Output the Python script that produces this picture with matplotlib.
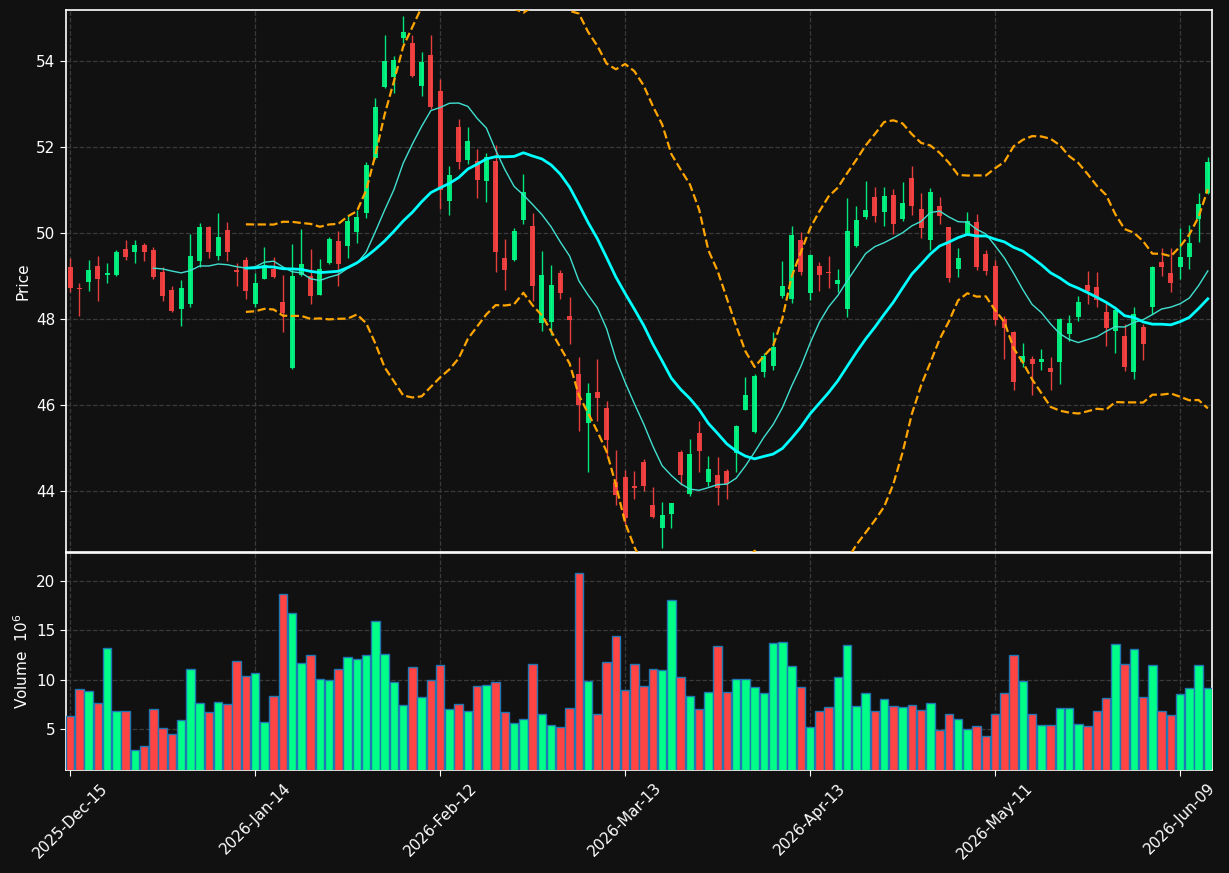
import numpy as np
import pandas as pd
import matplotlib
matplotlib.use("Agg")
import matplotlib.pyplot as plt

# daily OHLC + volume (millions), 124 trading days from 2025-12-15
opens = [49.22, 48.73, 48.87, 49.24, 49.03, 49.03, 49.64, 49.56, 49.73, 49.61,
         49.10, 48.68, 48.24, 48.36, 49.36, 50.15, 49.47, 50.08, 49.15, 49.38,
         48.34, 48.94, 49.17, 48.40, 46.86, 49.02, 49.01, 48.57, 49.30, 49.82,
         49.69, 50.03, 50.46, 51.74, 53.39, 53.62, 54.55, 54.43, 53.43, 54.15,
         53.31, 50.74, 52.46, 51.69, 51.67, 51.20, 51.67, 49.43, 49.37, 50.30,
         50.17, 47.90, 47.93, 49.08, 48.08, 46.71, 45.57, 46.31, 45.94, 44.20,
         44.33, 44.11, 44.68, 43.68, 43.15, 43.46, 44.90, 43.92, 45.34, 44.20,
         44.36, 44.47, 44.88, 45.89, 45.38, 46.77, 46.90, 48.54, 48.46, 49.85,
         48.60, 49.24, 49.08, 48.81, 48.23, 49.69, 50.38, 50.83, 50.50, 50.89,
         50.32, 51.29, 50.57, 49.83, 50.64, 50.13, 49.16, 49.97, 50.25, 49.51,
         49.24, 48.01, 47.70, 47.00, 47.07, 47.01, 46.87, 47.01, 47.65, 48.04,
         48.80, 48.75, 48.17, 47.73, 47.61, 46.77, 47.82, 48.29, 49.32, 49.07,
         49.20, 49.44, 50.32, 50.93]
highs = [49.41, 48.83, 49.38, 49.47, 49.31, 49.61, 49.85, 49.85, 49.78, 49.68,
         49.20, 48.77, 48.91, 49.98, 50.24, 50.17, 50.47, 50.25, 49.31, 49.45,
         49.07, 49.68, 49.45, 49.02, 49.75, 50.10, 49.64, 49.40, 49.92, 50.05,
         50.43, 50.53, 51.65, 53.14, 54.61, 54.12, 55.05, 54.60, 54.21, 54.61,
         53.58, 51.57, 52.66, 52.47, 51.96, 51.86, 52.06, 49.86, 50.11, 51.38,
         50.47, 49.58, 49.26, 49.14, 48.52, 47.12, 46.52, 47.08, 46.09, 44.96,
         44.48, 44.47, 44.75, 44.09, 43.74, 43.73, 44.95, 45.22, 45.63, 44.82,
         44.78, 44.51, 45.54, 46.66, 46.72, 47.22, 47.70, 49.35, 50.16, 50.03,
         49.52, 49.32, 49.47, 49.17, 50.82, 50.63, 51.21, 51.07, 51.07, 51.03,
         51.18, 51.56, 50.94, 51.05, 50.84, 50.15, 49.66, 50.49, 50.45, 49.61,
         49.38, 48.08, 47.72, 47.44, 47.14, 47.30, 47.11, 48.03, 48.09, 48.53,
         49.12, 49.09, 48.37, 48.24, 47.89, 48.27, 47.89, 49.24, 49.66, 49.66,
         50.11, 50.18, 50.93, 51.77]
lows = [48.63, 48.07, 48.65, 48.41, 48.84, 49.01, 49.38, 49.30, 49.35, 48.93,
        48.43, 48.17, 47.83, 48.28, 49.22, 49.42, 49.37, 49.34, 48.78, 48.47,
        48.29, 48.92, 48.95, 47.71, 46.84, 49.00, 48.35, 48.55, 49.28, 48.78,
        49.43, 49.76, 50.35, 51.72, 53.37, 53.25, 54.43, 53.63, 53.19, 52.89,
        50.57, 50.42, 51.50, 51.61, 50.82, 50.73, 49.10, 48.68, 49.35, 50.21,
        48.43, 47.72, 47.62, 48.47, 47.41, 45.40, 44.45, 45.63, 44.80, 43.68,
        43.22, 43.82, 43.99, 43.37, 42.68, 43.14, 44.15, 43.88, 44.45, 44.12,
        43.68, 43.82, 44.45, 45.88, 45.36, 46.66, 46.82, 48.48, 48.38, 49.03,
        48.44, 48.65, 48.72, 48.62, 48.05, 49.67, 50.33, 50.26, 50.17, 49.99,
        50.28, 50.42, 49.89, 49.61, 50.21, 48.87, 48.98, 49.95, 49.14, 49.03,
        47.85, 47.08, 46.35, 46.89, 46.23, 46.82, 46.35, 46.48, 47.48, 47.95,
        48.35, 48.29, 47.37, 47.21, 46.79, 46.61, 47.04, 48.12, 48.99, 48.63,
        48.93, 49.16, 49.80, 50.91]
closes = [48.72, 48.69, 49.15, 48.93, 49.08, 49.55, 49.45, 49.73, 49.56, 48.98,
          48.54, 48.19, 48.73, 49.47, 50.15, 49.55, 49.91, 49.56, 49.10, 48.66,
          48.83, 49.26, 48.97, 48.14, 49.01, 49.29, 48.54, 49.17, 49.87, 49.27,
          50.29, 50.38, 51.59, 52.94, 54.01, 54.03, 54.68, 53.66, 53.98, 52.94,
          51.01, 51.36, 51.65, 52.15, 51.23, 51.77, 49.56, 49.13, 50.05, 50.96,
          48.78, 49.03, 48.80, 48.60, 47.97, 45.99, 46.27, 46.16, 45.18, 43.90,
          43.37, 44.07, 44.12, 43.39, 43.43, 43.71, 44.38, 44.87, 44.92, 44.52,
          44.07, 44.17, 45.50, 46.24, 46.68, 47.14, 47.34, 48.78, 49.96, 49.09,
          49.50, 49.02, 49.07, 48.91, 50.05, 50.31, 50.54, 50.40, 50.87, 50.20,
          50.71, 50.62, 50.11, 50.96, 50.40, 48.95, 49.43, 50.28, 49.22, 49.12,
          47.97, 47.79, 46.54, 47.14, 46.96, 47.06, 46.77, 48.01, 47.90, 48.39,
          48.66, 48.45, 47.80, 48.22, 46.88, 48.12, 47.41, 49.20, 49.20, 48.83,
          49.45, 49.78, 50.68, 51.65]
volumes = [6.32, 9.05, 8.85, 7.64, 13.18, 6.89, 6.82, 2.87, 3.28, 7.09,
           5.10, 4.49, 5.91, 11.08, 7.64, 6.72, 7.74, 7.53, 11.89, 10.37,
           10.68, 5.71, 8.34, 18.68, 16.76, 11.69, 12.50, 10.07, 9.97, 11.08,
           12.30, 12.09, 12.50, 15.95, 12.60, 9.76, 7.47, 11.28, 8.24, 9.97,
           11.49, 7.03, 7.53, 6.82, 9.36, 9.46, 9.76, 6.72, 5.61, 6.01,
           11.59, 6.52, 5.41, 5.20, 7.13, 20.81, 9.86, 6.52, 11.79, 14.43,
           8.95, 11.59, 9.36, 11.08, 10.98, 18.07, 10.27, 8.34, 7.03, 8.75,
           13.41, 8.75, 10.07, 10.07, 9.26, 8.65, 13.72, 13.82, 11.39, 9.26,
           5.20, 6.82, 7.23, 10.27, 13.48, 7.33, 8.65, 6.82, 8.04, 7.33,
           7.23, 7.43, 6.93, 7.64, 4.90, 6.52, 6.01, 5.00, 5.30, 4.29,
           6.52, 8.65, 12.50, 9.86, 6.52, 5.41, 5.41, 7.13, 7.13, 5.51,
           5.30, 6.82, 8.14, 13.61, 11.59, 13.11, 8.24, 11.49, 6.82, 6.42,
           8.55, 9.16, 11.49, 9.16]

start_date = "2025-12-15"
holidays = ["2025-12-25", "2026-01-01", "2026-01-19", "2026-02-16",
            "2026-04-03", "2026-05-25"]

df = pd.DataFrame({"Open": opens, "High": highs, "Low": lows,
                   "Close": closes, "Volume": volumes})
bday = pd.offsets.CustomBusinessDay(holidays=holidays)
df.index = pd.date_range(start_date, periods=len(df), freq=bday)

ma10 = df["Close"].rolling(10).mean()
ma20 = df["Close"].rolling(20).mean()
sd20 = df["Close"].rolling(20).std()
bb_up = ma20 + 2 * sd20
bb_lo = ma20 - 2 * sd20

bg = "#111111"
up_c = "#00ff88"
dn_c = "#ff4444"
x = np.arange(len(df))
up = df["Close"] >= df["Open"]
cols = np.where(up, up_c, dn_c)

fig = plt.figure(figsize=(12.29, 8.73), dpi=100, facecolor=bg)
ax = fig.add_axes([66 / 1229, 321 / 873, 1146 / 1229, 542 / 873])
axv = fig.add_axes([66 / 1229, 103 / 873, 1146 / 1229, 217 / 873], sharex=ax)

# candles
ax.vlines(x, df["Low"], df["High"], colors=cols, linewidth=1, alpha=0.9, zorder=3)
body_lo = np.minimum(df["Open"], df["Close"])
body_h = np.maximum((df["Close"] - df["Open"]).abs(), 0.03)
ax.bar(x, body_h, bottom=body_lo, width=0.55, color=cols, alpha=0.9,
       linewidth=0, zorder=4)

ax.plot(x, ma10, color="#40e0d0", lw=1, zorder=5)
ax.plot(x, ma20, color="#00ffff", lw=2, zorder=5)
ax.plot(x, bb_up, color="orange", lw=1.6, ls="--", zorder=5)
ax.plot(x, bb_lo, color="orange", lw=1.6, ls="--", zorder=5)

# volume
axv.bar(x, df["Volume"], width=0.9, color=cols, edgecolor="#1f77b4",
        linewidth=1, zorder=3)

ax.set_ylim(42.58, 55.19)
axv.set_ylim(0.88, 22.84)
ax.set_xlim(-0.45, len(df) - 0.55)

tick_pos = x[::20]
tick_lab = [d.strftime("%Y-%b-%d") for d in df.index[::20]]
axv.set_xticks(tick_pos)
axv.set_xticklabels(tick_lab, rotation=45)
ax.set_yticks([44, 46, 48, 50, 52, 54])
axv.set_yticks([5, 10, 15, 20])
plt.setp(ax.get_xticklabels(), visible=False)

for a in (ax, axv):
    a.set_facecolor(bg)
    a.grid(True, ls="--", color="#3a3a3a", lw=0.9)
    a.set_axisbelow(True)
    for s in a.spines.values():
        s.set_color("white")
        s.set_linewidth(1.2)
    a.tick_params(colors="white", labelsize=11, length=4)

ax.set_ylabel("Price", color="white", fontsize=11)
axv.set_ylabel("Volume  $10^{6}$", color="white", fontsize=11)

fig.savefig("out.png", dpi=100, facecolor=bg)
